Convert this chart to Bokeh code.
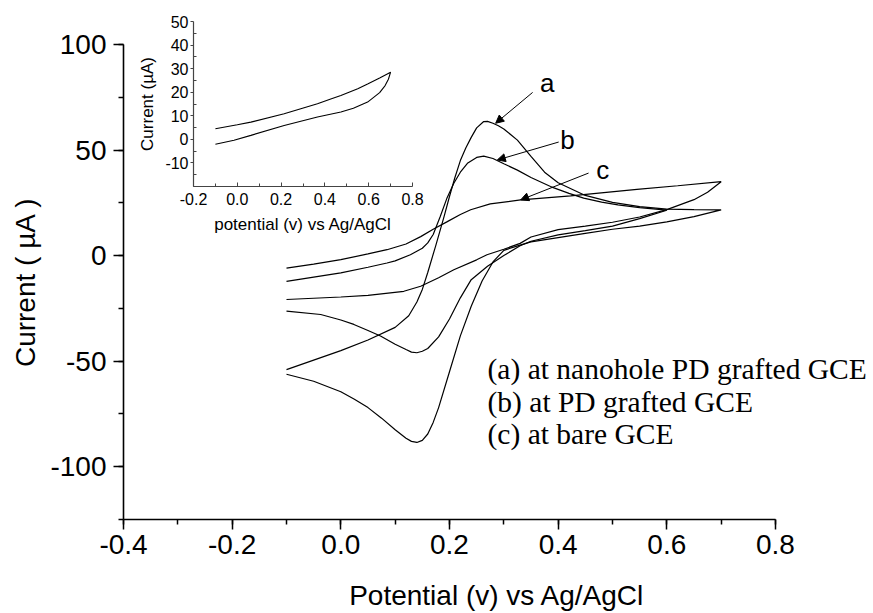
from bokeh.plotting import figure
from bokeh.models import (Range1d, SingleIntervalTicker, FixedTicker, PrintfTickFormatter,
                          Arrow, NormalHead, Label)
from bokeh.embed import file_html
from bokeh.resources import INLINE

# ---------------- data ----------------
# (a) nanohole PD grafted GCE
a_fwd_x = [-0.10, -0.05, 0.00, 0.05, 0.10, 0.125, 0.14, 0.15, 0.16, 0.175, 0.19, 0.20, 0.21, 0.22,
           0.23, 0.24, 0.25, 0.263, 0.27, 0.28, 0.29, 0.30, 0.325, 0.35, 0.375, 0.40, 0.45, 0.50,
           0.55, 0.60, 0.65, 0.70]
a_fwd_y = [-54.0, -49.5, -45.0, -40.0, -34.0, -28.5, -22.0, -16.0, -8.0, 5.0, 18.5, 28.0, 37.0, 45.0,
           51.0, 56.0, 60.5, 63.5, 63.6, 62.7, 61.5, 60.0, 54.7, 47.0, 39.5, 34.5, 28.5, 25.2,
           23.2, 22.0, 21.8, 21.7]
a_rev_x = [0.70, 0.65, 0.60, 0.55, 0.50, 0.45, 0.40, 0.35, 0.33, 0.30, 0.28, 0.26, 0.24, 0.22, 0.20,
           0.18, 0.17, 0.16, 0.15, 0.14, 0.13, 0.12, 0.10, 0.075, 0.05, 0.025, 0.00, -0.05, -0.10]
a_rev_y = [21.7, 18.5, 16.0, 14.0, 12.5, 10.5, 8.5, 6.5, 5.0, 2.5, -3.0, -12.0, -24.0, -38.0, -55.0,
           -72.0, -79.0, -84.5, -87.5, -88.5, -88.0, -86.5, -82.5, -77.0, -72.0, -68.0, -64.5, -59.5,
           -56.2]

# (b) PD grafted GCE
b_fwd_x = [-0.10, -0.05, 0.00, 0.05, 0.085, 0.10, 0.128, 0.15, 0.16, 0.17, 0.183, 0.195, 0.208, 0.22,
           0.233, 0.25, 0.263, 0.28, 0.30, 0.325, 0.35, 0.386, 0.42, 0.447, 0.48, 0.51, 0.55, 0.60]
b_fwd_y = [-12.2, -10.2, -8.2, -5.5, -3.5, -2.5, 0.4, 3.5, 6.0, 10.0, 18.5, 27.0, 34.3, 39.5,
           43.7, 46.5, 47.1, 46.0, 43.5, 40.5, 37.0, 32.7, 29.5, 27.2, 25.3, 24.0, 22.7, 21.5]
b_rev_x = [0.60, 0.55, 0.50, 0.45, 0.40, 0.35, 0.33, 0.30, 0.27, 0.24, 0.22, 0.20, 0.18, 0.16, 0.15,
           0.14, 0.13, 0.12, 0.10, 0.073, 0.05, 0.024, 0.00, -0.037, -0.10]
b_rev_y = [21.5, 17.5, 14.0, 11.8, 9.8, 6.8, 4.7, 0.0, -5.0, -11.4, -20.0, -30.0, -38.5, -44.0, -45.3,
           -46.0, -45.7, -44.5, -42.0, -38.1, -35.5, -32.6, -30.5, -27.9, -26.3]

# (c) bare GCE
c_fwd_x = [-0.10, -0.05, 0.00, 0.05, 0.085, 0.12, 0.147, 0.17, 0.196, 0.22, 0.239, 0.275, 0.331,
           0.423, 0.545, 0.62, 0.70]
c_fwd_y = [-5.9, -4.0, -1.9, 0.8, 2.8, 5.5, 9.0, 12.5, 16.1, 19.5, 21.7, 24.5, 26.4,
           28.3, 31.4, 33.1, 35.0]
c_rev_x = [0.70, 0.675, 0.65, 0.60, 0.55, 0.50, 0.45, 0.40, 0.35, 0.33, 0.30, 0.269, 0.25, 0.208,
           0.18, 0.147, 0.116, 0.05, 0.00, -0.05, -0.10]
c_rev_y = [35.0, 30.0, 26.5, 21.8, 18.3, 15.8, 14.0, 12.3, 8.8, 5.8, 3.0, 0.4, -2.0, -6.7,
           -10.5, -14.5, -16.9, -18.8, -19.6, -20.2, -20.8]

# inset curve
ins_fwd_x = [-0.10, 0.00, 0.062, 0.214, 0.366, 0.43, 0.473, 0.55, 0.595, 0.65, 0.70]
ins_fwd_y = [4.5, 6.2, 7.3, 10.9, 15.1, 17.2, 18.6, 21.5, 23.5, 26.0, 28.5]
ins_rev_x = [0.70, 0.69, 0.675, 0.65, 0.595, 0.53, 0.473, 0.366, 0.214, 0.062, -0.015, -0.10]
ins_rev_y = [28.5, 25.5, 22.8, 19.8, 15.8, 13.2, 11.6, 9.5, 5.9, 1.7, -0.4, -2.1]

# tick values
ins_x_ticks = [-0.2, 0.0, 0.2, 0.4, 0.6, 0.8]
ins_x_minor = [-0.1, 0.1, 0.3, 0.5, 0.7]
ins_y_ticks = [-10, 0, 10, 20, 30, 40, 50]
ins_y_minor = [-20, -15, -5, 5, 15, 25, 35, 45]

# texts
curve_letters = ["a", "b", "c"]
legend_lines = ["(a) at nanohole PD grafted GCE", "(b) at PD grafted GCE", "(c) at bare GCE"]

# annotation positions (data units)
letter_pos = [(0.380, 81.6), (0.417, 54.7), (0.482, 40.5)]
arrow_pos = [((0.353, 77.3), (0.285, 62.7)),
             ((0.401, 53.8), (0.288, 45.3)),
             ((0.456, 39.1), (0.331, 26.4))]
legend_x = 0.270
legend_y = [-53.8, -69.4, -84.5]

SANS = "Liberation Sans"
SERIF = "Liberation Serif"

# ---------------- main figure ----------------
# frame runs to the right edge so the legend text is not clipped; the axis itself stops at 0.8
p = figure(width=873, height=613, x_range=Range1d(-0.4, 0.9749), y_range=Range1d(-125, 100),
           output_backend="svg", toolbar_location=None,
           min_border_left=123, min_border_right=3, min_border_top=44, min_border_bottom=92)
p.outline_line_color = None
p.grid.visible = False
p.background_fill_color = "white"
p.border_fill_color = "white"

for fx, fy, rx, ry in [(a_fwd_x, a_fwd_y, a_rev_x, a_rev_y),
                       (b_fwd_x, b_fwd_y, b_rev_x, b_rev_y),
                       (c_fwd_x, c_fwd_y, c_rev_x, c_rev_y)]:
    p.line(fx + rx, fy + ry, line_color="black", line_width=1.2)

p.xaxis.ticker = SingleIntervalTicker(interval=0.2, num_minor_ticks=2)
p.yaxis.ticker = SingleIntervalTicker(interval=50, num_minor_ticks=2)
p.xaxis.bounds = (-0.4, 0.8)
p.xaxis.formatter = PrintfTickFormatter(format="%.1f")
p.yaxis.formatter = PrintfTickFormatter(format="%d")
for ax in (p.xaxis, p.yaxis):
    ax.axis_line_width = 1.6
    ax.axis_line_color = "black"
    ax.major_tick_line_width = 1.5
    ax.minor_tick_line_width = 1.5
    ax.major_tick_line_color = "black"
    ax.minor_tick_line_color = "black"
    ax.major_tick_out = 10
    ax.major_tick_in = 0
    ax.minor_tick_out = 5
    ax.minor_tick_in = 0
    ax.major_label_text_font = SANS
    ax.major_label_text_font_size = "28px"
    ax.major_label_text_color = "black"
    ax.axis_label_text_font = SANS
    ax.axis_label_text_font_size = "28px"
    ax.axis_label_text_font_style = "normal"
    ax.axis_label_text_color = "black"
p.xaxis.axis_label = "Potential (v) vs Ag/AgCl"
p.yaxis.axis_label = "Current ( µA )"
p.xaxis.major_label_standoff = 5
p.yaxis.major_label_standoff = 7
p.xaxis.axis_label_standoff = 23
p.yaxis.axis_label_standoff = 6

for t, (lx, ly) in zip(curve_letters, letter_pos):
    p.add_layout(Label(x=lx, y=ly, text=t, text_font=SANS, text_font_size="26px",
                       text_align="center", text_baseline="middle", text_color="black"))
for (s, e) in arrow_pos:
    p.add_layout(Arrow(end=NormalHead(size=8, fill_color="black", line_color="black", line_width=1),
                       x_start=s[0], y_start=s[1], x_end=e[0], y_end=e[1],
                       line_color="black", line_width=1))
for t, ly in zip(legend_lines, legend_y):
    p.add_layout(Label(x=legend_x, y=ly, text=t, text_font=SERIF, text_font_size="29.5px",
                       text_align="left", text_baseline="middle", text_color="black"))

# ---------------- inset figure (separate root, placed over the main one) ----------------
ins = figure(width=302, height=238, x_range=Range1d(-0.2, 0.8), y_range=Range1d(-20, 50),
             output_backend="svg", toolbar_location=None,
             min_border_left=65, min_border_right=18, min_border_top=21, min_border_bottom=52,
             styles={"position": "absolute", "left": "128px", "top": "0px", "z-index": "2"})
ins.outline_line_color = None
ins.grid.visible = False
ins.background_fill_alpha = 0
ins.border_fill_alpha = 0
ins.line(ins_fwd_x + ins_rev_x, ins_fwd_y + ins_rev_y, line_color="black", line_width=1.1)

ins.xaxis.ticker = FixedTicker(ticks=ins_x_ticks, minor_ticks=ins_x_minor)
ins.yaxis.ticker = FixedTicker(ticks=ins_y_ticks, minor_ticks=ins_y_minor)
ins.xaxis.formatter = PrintfTickFormatter(format="%.1f")
ins.yaxis.formatter = PrintfTickFormatter(format="%d")
for ax in (ins.xaxis, ins.yaxis):
    ax.axis_line_color = "#444444"
    ax.axis_line_width = 1.2
    ax.major_tick_line_color = "#444444"
    ax.minor_tick_line_color = "#444444"
    ax.major_label_text_font = SANS
    ax.major_label_text_font_size = "16px"
    ax.major_label_text_color = "black"
    ax.axis_label_text_font = SANS
    ax.axis_label_text_font_size = "17px"
    ax.axis_label_text_font_style = "normal"
    ax.axis_label_text_color = "black"
ins.xaxis.major_tick_in = 4
ins.xaxis.major_tick_out = 0
ins.xaxis.minor_tick_in = 3
ins.xaxis.minor_tick_out = 0
ins.yaxis.major_tick_in = 0
ins.yaxis.major_tick_out = 3
ins.yaxis.minor_tick_in = 3
ins.yaxis.minor_tick_out = 0
ins.xaxis.major_label_standoff = 6
ins.yaxis.major_label_standoff = 2
ins.xaxis.axis_label = "potential (v) vs Ag/AgCl"
ins.yaxis.axis_label = "Current (µA)"
ins.xaxis.axis_label_standoff = 7
ins.yaxis.axis_label_standoff = 5

open("out.html", "w").write(file_html([p, ins], INLINE))
